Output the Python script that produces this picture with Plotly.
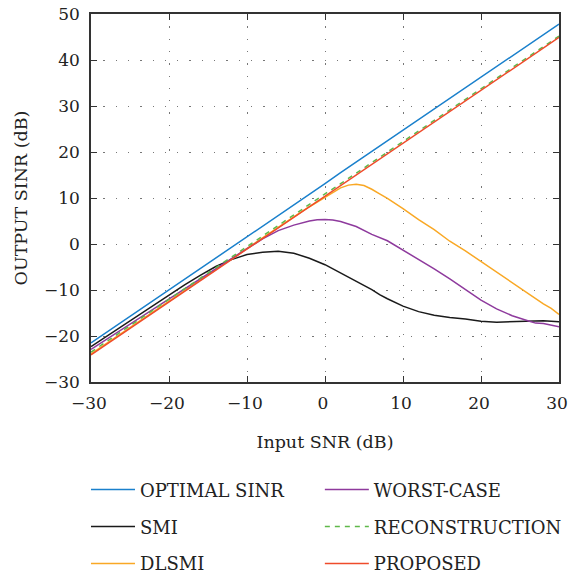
import plotly.graph_objects as go

# ---------------- data ----------------
snr_line = [-30, -28, -26, -24, -22, -20, -18, -16, -14, -12, -10, -8, -6, -4, -2, 0,
            2, 4, 6, 8, 10, 12, 14, 16, 18, 20, 22, 24, 26, 28, 30]

optimal_sinr = [-21.5, -19.2, -16.9, -14.6, -12.3, -10.0, -7.6, -5.3, -3.0, -0.7, 1.6,
                3.9, 6.2, 8.5, 10.8, 13.1, 15.5, 17.8, 20.1, 22.4, 24.7, 27.0, 29.3,
                31.6, 33.9, 36.2, 38.5, 40.8, 43.2, 45.5, 47.8]

reconstruction = [-23.5, -21.2, -18.9, -16.6, -14.3, -12.1, -9.8, -7.5, -5.2, -2.9, -0.6,
                  1.7, 4.0, 6.3, 8.6, 10.9, 13.1, 15.4, 17.7, 20.0, 22.3, 24.6, 26.9,
                  29.2, 31.5, 33.8, 36.1, 38.4, 40.7, 43.0, 45.2]

proposed = [-24.1, -21.8, -19.5, -17.2, -14.9, -12.6, -10.3, -8.0, -5.7, -3.4, -1.1,
            1.2, 3.5, 5.8, 8.1, 10.4, 12.7, 15.0, 17.3, 19.6, 21.9, 24.2, 26.5, 28.8,
            31.1, 33.4, 35.7, 38.0, 40.3, 42.6, 44.9]

snr_smi = [-30, -26, -22, -18, -16, -14, -12, -10, -8, -6, -4, -2, 0, 2, 4, 6, 7, 8,
           10, 12, 14, 16, 18, 20, 22, 24, 26, 28, 30]
smi = [-22.3, -17.8, -13.3, -8.9, -6.8, -4.9, -3.4, -2.3, -1.8, -1.6, -2.0, -3.1, -4.5,
       -6.3, -8.1, -9.9, -11.0, -11.9, -13.5, -14.7, -15.5, -16.0, -16.3, -16.8, -17.0,
       -16.9, -16.9, -16.7, -16.9]

snr_dlsmi = [-30, -28, -26, -24, -22, -20, -18, -16, -14, -12, -10, -8, -6, -4, -2, 0,
             1, 2, 3, 4, 5, 6, 7, 8, 10, 12, 14, 16, 18, 20, 22, 24, 26, 28, 29, 30]
dlsmi = [-23.9, -21.6, -19.3, -17.0, -14.7, -12.4, -10.1, -7.8, -5.5, -3.2, -0.9, 1.4,
         3.7, 5.9, 8.1, 10.2, 11.3, 12.2, 12.8, 13.0, 12.7, 11.9, 10.9, 9.9, 7.7, 5.3,
         3.1, 0.6, -1.5, -3.8, -6.2, -8.4, -10.7, -13.0, -14.0, -15.3]

snr_worst = [-30, -26, -22, -18, -14, -12, -10, -8, -6, -4, -2, -1, 0, 1, 2, 4, 6, 8,
             10, 12, 14, 16, 18, 20, 22, 24, 26, 27, 28, 29, 30]
worst_case = [-22.9, -18.5, -14.1, -9.7, -5.3, -3.1, -1.0, 1.1, 2.9, 4.1, 5.0, 5.25, 5.35,
              5.2, 4.9, 3.8, 2.1, 0.7, -1.3, -3.4, -5.4, -7.6, -9.9, -12.2, -14.1, -15.6,
              -16.7, -17.2, -17.3, -17.6, -18.0]

x_ticks = [-30, -20, -10, 0, 10, 20, 30]
y_ticks = [-30, -20, -10, 0, 10, 20, 30, 40, 50]

FONT = "DejaVu Serif"

fig = go.Figure()

def add(x, y, name, color, legend, rank, dash="solid"):
    fig.add_trace(go.Scatter(
        x=x, y=y, mode="lines", name=name,
        line=dict(color=color, width=1.5, dash=dash),
        legend=legend, legendrank=rank, legendgroup=name,
    ))

add(snr_line, optimal_sinr, "OPTIMAL SINR", "#1a80cc", "legend", 1)
add(snr_smi, smi, "SMI", "#1a1a1a", "legend", 2)
add(snr_dlsmi, dlsmi, "DLSMI", "#f9a825", "legend", 3)
add(snr_worst, worst_case, "WORST-CASE", "#8e3a9d", "legend2", 1)
add(snr_line, reconstruction, "RECONSTRUCTION", "#5fb84a", "legend2", 2, dash="5px,5px")
add(snr_line, proposed, "PROPOSED", "#ef4b2b", "legend2", 3)

axis_common = dict(
    showline=True, linecolor="#333333", linewidth=1.5, mirror="ticks",
    ticks="inside", ticklen=6, tickwidth=1.2, tickcolor="#333333",
    showgrid=True, gridcolor="#777777", gridwidth=1.3, griddash="1.3px,11px",
    zeroline=False, tickfont=dict(family=FONT, size=17, color="#222222"),
    ticklabeloverflow="allow",
)

fig.update_xaxes(range=[-30, 30], tickvals=x_ticks, ticklabelstandoff=5, ticklabelshift=-2,
                 title=dict(text="Input SNR (dB)", font=dict(family=FONT, size=17.5, color="#222222"),
                            standoff=24),
                 **axis_common)
fig.update_yaxes(range=[-30, 50], tickvals=y_ticks, ticklabelstandoff=6,
                 title=dict(text="OUTPUT SINR (dB)", font=dict(family=FONT, size=17.5, color="#222222"),
                            standoff=12),
                 **axis_common)

legend_common = dict(
    orientation="v", yanchor="top", xanchor="left", y=-0.243,
    font=dict(family=FONT, size=18, color="#222222"),
    bgcolor="rgba(0,0,0,0)", itemwidth=44, tracegroupgap=10.5, traceorder="grouped",
)

fig.update_layout(
    width=568, height=584,
    margin=dict(l=91, r=9, t=14, b=202, autoexpand=False),
    plot_bgcolor="white", paper_bgcolor="white",
    font=dict(family=FONT, color="#222222"),
    showlegend=True,
    legend=dict(x=-0.0107, **legend_common),
    legend2=dict(x=0.489, **legend_common),
)

fig.write_html("out.html")
